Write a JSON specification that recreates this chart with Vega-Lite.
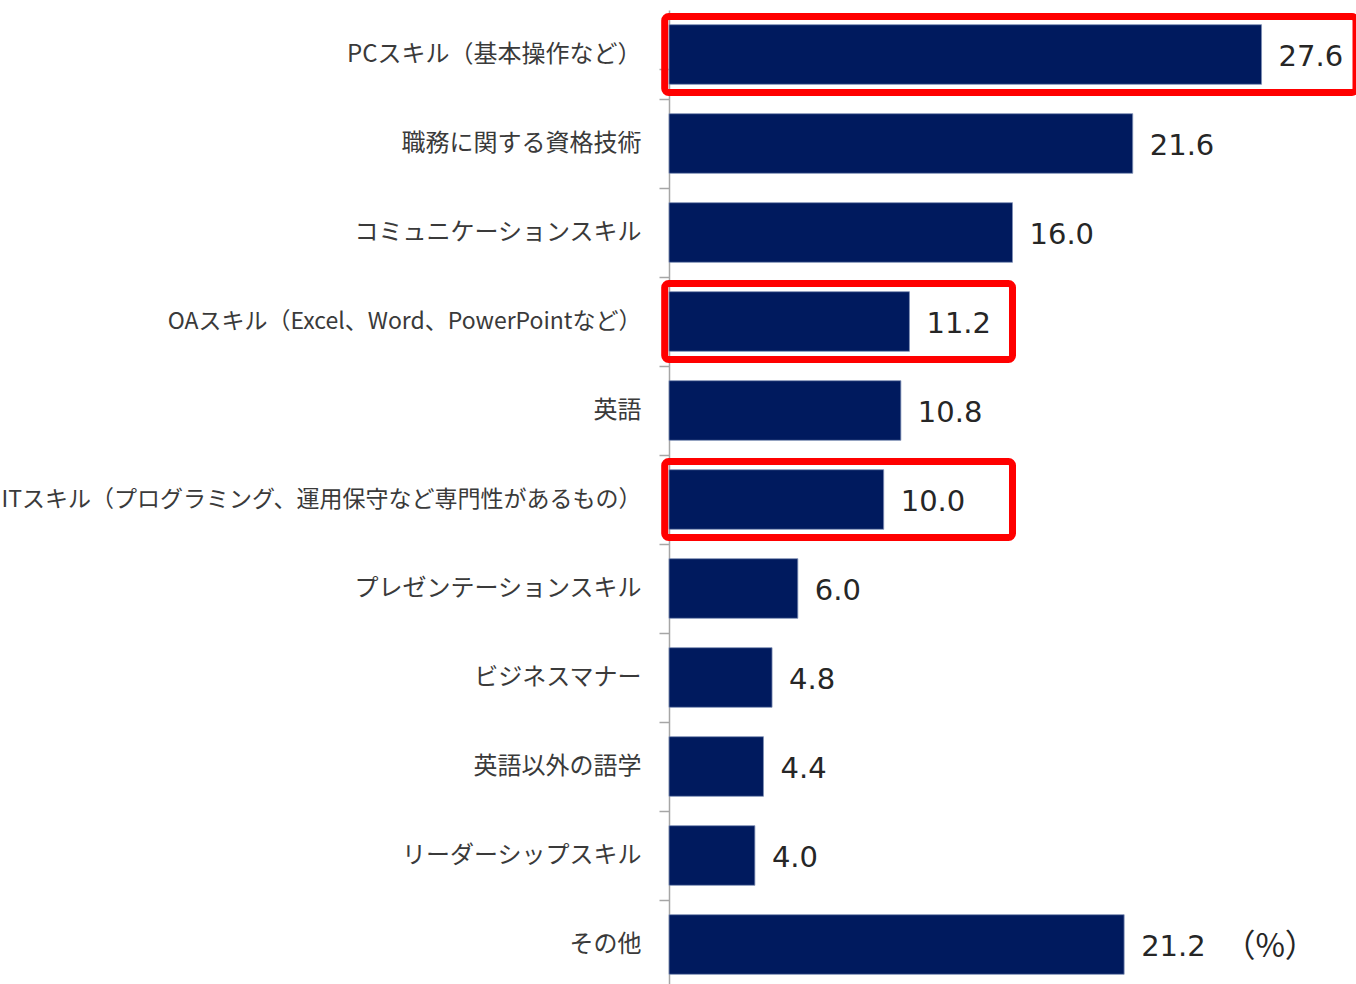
{
  "$schema": "https://vega.github.io/schema/vega-lite/v6.json",
  "autosize": "none",
  "padding": {"left": 669, "top": 10, "right": 0, "bottom": 0},
  "width": 687,
  "height": 979,
  "background": "white",
  "config": {"view": {"stroke": null}},
  "datasets": {
    "skills": [
      {"skill": "PCスキル（基本操作など）", "value": 27.6},
      {"skill": "職務に関する資格技術", "value": 21.6},
      {"skill": "コミュニケーションスキル", "value": 16.0},
      {"skill": "OAスキル（Excel、Word、PowerPointなど）", "value": 11.2},
      {"skill": "英語", "value": 10.8},
      {"skill": "ITスキル（プログラミング、運用保守など専門性があるもの）", "value": 10.0},
      {"skill": "プレゼンテーションスキル", "value": 6.0},
      {"skill": "ビジネスマナー", "value": 4.8},
      {"skill": "英語以外の語学", "value": 4.4},
      {"skill": "リーダーシップスキル", "value": 4.0},
      {"skill": "その他", "value": 21.2}
    ],
    "boxes": [
      {"skill": "PCスキル（基本操作など）", "x0": -0.2, "x1": 32},
      {"skill": "OAスキル（Excel、Word、PowerPointなど）", "x0": -0.2, "x1": 16.0},
      {"skill": "ITスキル（プログラミング、運用保守など専門性があるもの）", "x0": -0.2, "x1": 16.0}
    ],
    "unit": [
      {"skill": "その他", "x": 28.0, "text": "（%）"}
    ]
  },
  "resolve": {"scale": {"y": "independent"}},
  "layer": [
    {
      "layer": [
        {
          "data": {"name": "skills"},
          "mark": {"type": "bar", "color": "#001A5E", "stroke": "#7F8FB5", "strokeWidth": 0.8},
          "encoding": {
            "y": {
              "field": "skill", "type": "nominal", "sort": null,
              "scale": {"paddingInner": 0.33, "paddingOuter": 0.165},
              "axis": {
                "title": null,
                "domainColor": "#A6A6A6", "domainWidth": 1.5,
                "tickColor": "#A6A6A6", "tickSize": 10, "tickWidth": 1.5,
                "tickOffset": 44.5, "labelOffset": -44.5, "tickExtra": true,
                "labelFont": "Noto Sans CJK JP",
                "labelFontSize": {"condition": {"test": "length(datum.label) > 25", "value": 23}, "value": 24},
                "labelColor": "#3A3A3A",
                "labelPadding": 18, "labelLimit": 700
              }
            },
            "x": {
              "field": "value", "type": "quantitative",
              "scale": {"domain": [0, 32], "nice": false},
              "axis": null
            }
          }
        },
        {
          "data": {"name": "skills"},
          "mark": {"type": "text", "align": "left", "baseline": "middle", "dx": 17, "dy": 2, "font": "DejaVu Sans", "fontSize": 29, "color": "#262626"},
          "encoding": {
            "y": {"field": "skill", "type": "nominal", "sort": null},
            "x": {"field": "value", "type": "quantitative"},
            "text": {"field": "value", "type": "quantitative", "format": ".1f"}
          }
        },
        {
          "data": {"name": "unit"},
          "mark": {"type": "text", "align": "center", "baseline": "middle", "dy": 2, "font": "Noto Sans CJK JP", "fontSize": 32, "color": "#262626"},
          "encoding": {
            "y": {"field": "skill", "type": "nominal", "sort": null},
            "x": {"field": "x", "type": "quantitative"},
            "text": {"field": "text"}
          }
        }
      ]
    },
    {
      "data": {"name": "boxes"},
      "mark": {"type": "rect", "fill": null, "fillOpacity": 0, "stroke": "#FF0000", "strokeWidth": 7, "cornerRadius": 4},
      "encoding": {
        "y": {
          "field": "skill", "type": "nominal",
          "scale": {
            "type": "band",
            "domain": [
              "PCスキル（基本操作など）", "職務に関する資格技術", "コミュニケーションスキル",
              "OAスキル（Excel、Word、PowerPointなど）", "英語",
              "ITスキル（プログラミング、運用保守など専門性があるもの）", "プレゼンテーションスキル",
              "ビジネスマナー", "英語以外の語学", "リーダーシップスキル", "その他"
            ],
            "paddingInner": 0.146, "paddingOuter": 0.073
          },
          "axis": null
        },
        "x": {"field": "x0", "type": "quantitative"},
        "x2": {"field": "x1"}
      }
    }
  ]
}
